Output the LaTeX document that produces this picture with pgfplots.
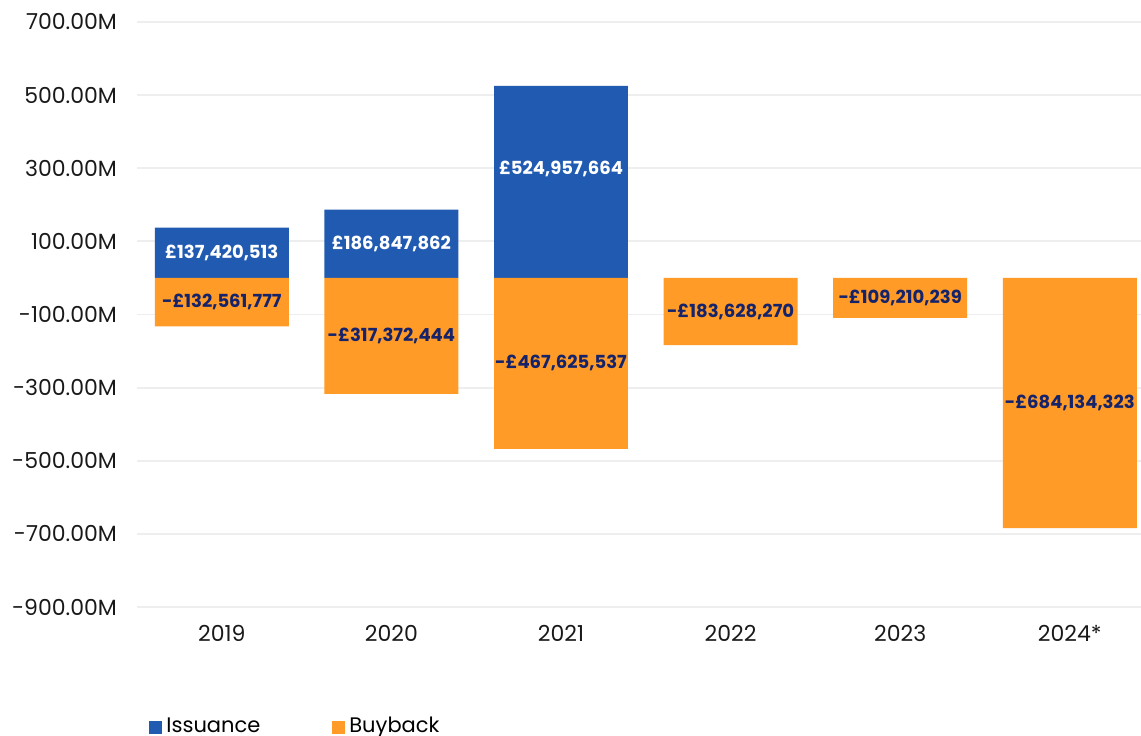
\documentclass[border=0pt]{standalone}
\usepackage{fontspec}
\setmainfont{Poppins}
\usepackage{pgfplots}
\pgfplotsset{compat=1.18}
\usepackage{pgfplotstable}
\definecolor{issblue}{HTML}{215BB1}
\definecolor{buyorange}{HTML}{FF9B26}
\definecolor{navylab}{HTML}{15236B}
\definecolor{gridgray}{HTML}{EEEEEE}

\pgfplotstableread{
x y
0 137.420513
1 186.847862
2 524.957664
}\issuance
\pgfplotstableread{
x y
0 -132.561777
1 -317.372444
2 -467.625537
3 -183.628270
4 -109.210239
5 -684.134323
}\buyback
\pgfplotstableread{
x y label
0 68.7 {£137,420,513}
1 93.4 {£186,847,862}
2 298 {£524,957,664}
}\isslabels
\pgfplotstableread{
x y label
0 -66.3 {-£132,561,777}
1 -158.7 {-£317,372,444}
2 -233.8 {-£467,625,537}
3 -91.8 {-£183,628,270}
4 -54.6 {-£109,210,239}
5 -342.1 {-£684,134,323}
}\buylabels

\begin{document}
\begin{tikzpicture}
\path[use as bounding box] (0,0) rectangle (570.5pt,367.5pt);
\begin{axis}[
  at={(68.5pt,64pt)}, anchor=south west,
  scale only axis, width=502pt, height=292.5pt,
  xmin=-0.5, xmax=5.42, ymin=-900, ymax=700,
  ytick={-900,-700,-500,-300,-100,100,300,500,700},
  yticklabels={-900.00M,-700.00M,-500.00M,-300.00M,-100.00M,100.00M,300.00M,500.00M,700.00M},
  xtick={0,1,2,3,4,5},
  xticklabels={2019,2020,2021,2022,2023,2024*},
  ymajorgrids, grid style={gridgray, line width=0.9pt},
  axis line style={draw=none}, tick style={draw=none},
  ticklabel style={font=\fontsize{11}{13}\selectfont, text=black!90},
  yticklabel style={xshift=-6.5pt},
  xticklabel style={yshift=-5.5pt},
  /pgf/number format/assume math mode=true,
  clip=false,
  legend style={draw=none, at={(0.012,-0.204)}, anchor=west, legend columns=2,
    font=\fontsize{10.5}{12}\selectfont, inner sep=0pt,
    /tikz/every even column/.append style={column sep=34pt}},
  legend image code/.code={\fill[#1] (0pt,-3.6pt) rectangle (6.5pt,2.9pt);},
  legend cell align=left,
]
\addplot[ybar, bar width=0.79, bar shift=0, fill=issblue, draw=none] table[x=x,y=y] {\issuance};
\addlegendentry{Issuance}
\addplot[ybar, bar width=0.79, bar shift=0, fill=buyorange, draw=none] table[x=x,y=y] {\buyback};
\addlegendentry{Buyback}
\addplot[forget plot, draw=none, mark=none, nodes near coords, point meta=explicit symbolic,
  every node near coord/.append style={anchor=center, text=white, font=\fontsize{9}{10}\selectfont\bfseries}]
  table[x=x,y=y,meta=label] {\isslabels};
\addplot[forget plot, draw=none, mark=none, nodes near coords, point meta=explicit symbolic,
  every node near coord/.append style={anchor=center, text=navylab, font=\fontsize{9}{10}\selectfont\bfseries}]
  table[x=x,y=y,meta=label] {\buylabels};
\end{axis}
\end{tikzpicture}
\end{document}
